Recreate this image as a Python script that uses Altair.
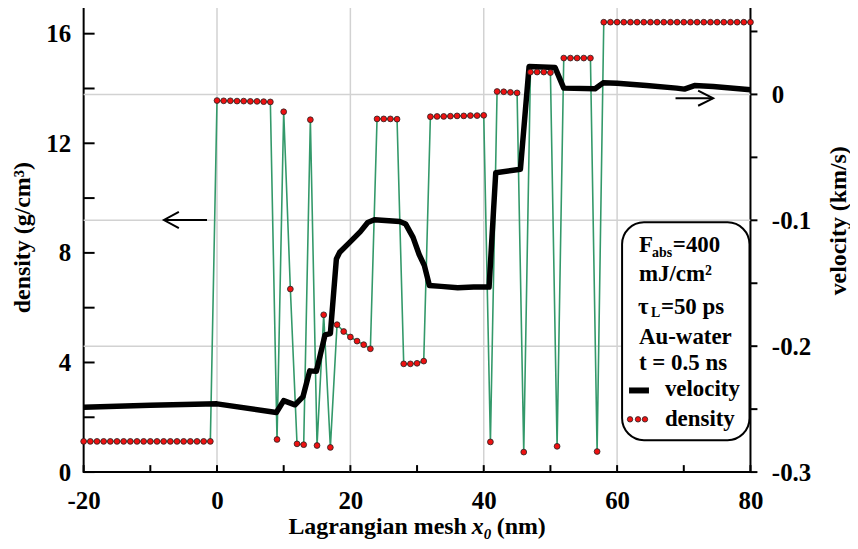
import altair as alt
import pandas as pd

FONT = "Liberation Serif"

# ---- data ----
mesh_x = list(range(-20, 81))
density = [
    1.12, 1.12, 1.12, 1.12, 1.12, 1.12, 1.12, 1.12, 1.12, 1.12,
    1.12, 1.12, 1.12, 1.12, 1.12, 1.12, 1.12, 1.12, 1.12, 1.12,   # -20..-1
    13.56, 13.55, 13.55, 13.54, 13.54, 13.53, 13.53, 13.52, 13.51,  # 0..8
    1.19, 13.15, 6.68, 1.03, 1.00, 12.86, 0.97, 5.74, 0.90,          # 9..17
    5.38, 5.13, 4.93, 4.78, 4.65, 4.50,                              # 18..23
    12.89, 12.89, 12.89, 12.88,                                      # 24..27
    3.95, 3.95, 3.97, 4.05,                                          # 28..31
    12.97, 12.98, 12.98, 12.99, 13.00, 13.00, 13.01, 13.01, 13.02,   # 32..40
    1.10,                                                            # 41
    13.89, 13.88, 13.86, 13.84,                                      # 42..45
    0.73,                                                            # 46
    14.60, 14.60, 14.60, 14.58,                                      # 47..50
    0.94,                                                            # 51
    15.11, 15.11, 15.11, 15.11, 15.11,                               # 52..56
    0.75,                                                            # 57
    16.42, 16.42, 16.42, 16.42, 16.42, 16.42, 16.42, 16.42, 16.42, 16.42,
    16.42, 16.42, 16.42, 16.42, 16.42, 16.42, 16.42, 16.42, 16.42, 16.42,
    16.42, 16.42, 16.42,                                             # 58..80
]

vel_x = [-20, -10, 0, 8.9, 10, 11.7, 12.9, 13.9, 14.9, 16.2, 17, 17.9, 18.4,
         19.9, 21.5, 22.6, 23.6, 27.4, 28.3, 29.4, 30.3, 31.1, 31.85, 33.6,
         36.1, 38.5, 40.8, 41.8, 45.5, 46.8, 50.7, 52.0, 56.7, 57.9, 60,
         64.4, 68.9, 70.1, 71.6, 74.4, 80]
vel_v = [-0.2485, -0.247, -0.2458, -0.2527, -0.2432, -0.2466, -0.240, -0.2196,
         -0.2200, -0.191, -0.190, -0.1307, -0.1254, -0.1175, -0.109, -0.1017,
         -0.0996, -0.101, -0.103, -0.1136, -0.127, -0.136, -0.1518, -0.1525,
         -0.1536, -0.1530, -0.153, -0.0622, -0.0595, 0.0221, 0.0213, 0.005,
         0.0045, 0.0092, 0.0089, 0.007, 0.005, 0.0042, 0.007, 0.0063, 0.0037]

x_labels = [-20, 0, 20, 40, 60, 80]
x_grid = [0, 20, 40, 60]
x_ticks = [-20, -10, 0, 10, 20, 30, 40, 50, 60, 70, 80]
d_labels = [0, 4, 8, 12, 16]
d_ticks = [0, 2, 4, 6, 8, 10, 12, 14, 16]
v_labels = [-0.3, -0.2, -0.1, 0]
v_grid = [-0.2, -0.1, 0]
v_ticks = [-0.3, -0.25, -0.2, -0.15, -0.1, -0.05, 0, 0.05]

# arrows (data coordinates)
arrow_x = [-1.5, -7.96, -5.72, -7.96, -5.72, 68.76, 74.4, 72.15, 74.4, 72.15]
arrow_d = [9.2, 9.2, 9.5, 9.2, 8.9, 13.64, 13.64, 13.92, 13.64, 13.37]
arrow_seg = ["a", "a", "b", "b", "b", "c", "c", "d", "d", "d"]
arrow_o = [0, 1, 0, 1, 2, 0, 1, 0, 1, 2]

W, H = 670, 468

dens_df = pd.DataFrame({"x": mesh_x, "d": density})
vel_df = pd.DataFrame({"x": vel_x, "v": vel_v})
arrow_df = pd.DataFrame({"x": arrow_x, "d": arrow_d, "seg": arrow_seg, "o": arrow_o})

grid_color = "#d2d2d2"

x_scale = alt.Scale(domain=[-20, 80], nice=False, zero=False)
x_enc = alt.X(
    "x:Q", scale=x_scale,
    axis=alt.Axis(values=x_labels, grid=False, ticks=False, domain=False, labelPadding=17,
                  labelFlush=False, title=None,
                  labelExpr="datum.value < 0 ? '-' + abs(datum.value) : '' + datum.value"),
)
d_scale = alt.Scale(domain=[0, 17], nice=False, zero=False)
d_enc = alt.Y(
    "d:Q", scale=d_scale,
    axis=alt.Axis(orient="left", values=d_labels, ticks=False, domain=False, grid=False,
                  labelPadding=13, labelFlush=False, title="density (g/cm³)", titleAngle=270,
                  titleX=-61, titleY=232, titleAlign="center", titleBaseline="middle"),
)
v_scale = alt.Scale(domain=[-0.3, 0.07], nice=False, zero=False)
v_enc = alt.Y(
    "v:Q", scale=v_scale,
    axis=alt.Axis(orient="right", values=v_labels, ticks=False, domain=False, grid=False,
                  labelPadding=21, labelAlign="left", labelFlush=False,
                  labelExpr="datum.value == 0 ? '0' : '-0.' + round(abs(datum.value) * 10)",
                  title="velocity (km/s)", titleAngle=270, titleX=88, titleY=215,
                  titleAlign="center", titleBaseline="middle"),
)

# grid lines (behind everything)
x_gridlines = alt.Chart(pd.DataFrame({"x": x_grid})).mark_rule(color=grid_color, strokeWidth=1.5).encode(
    x=alt.X("x:Q", scale=x_scale))
v_gridlines = alt.Chart(pd.DataFrame({"v": v_grid})).mark_rule(color=grid_color, strokeWidth=1.5).encode(
    y=alt.Y("v:Q", scale=v_scale, axis=None))

green_line = alt.Chart(dens_df).mark_line(color="#33996a", strokeWidth=1.6).encode(x=x_enc, y=d_enc)
left_ticks = alt.Chart(pd.DataFrame({"d": d_ticks})).mark_rule(color="black", strokeWidth=2).encode(
    y=alt.Y("d:Q", scale=d_scale), x=alt.value(0), x2=alt.value(11))
bottom_ticks = alt.Chart(pd.DataFrame({"x": x_ticks})).mark_rule(color="black", strokeWidth=2).encode(
    x=alt.X("x:Q", scale=x_scale), y=alt.value(H), y2=alt.value(H - 7))
arrows = alt.Chart(arrow_df).mark_line(color="black", strokeWidth=2).encode(
    x=alt.X("x:Q", scale=x_scale), y=alt.Y("d:Q", scale=d_scale), detail="seg:N", order="o:Q")

vel_line = alt.Chart(vel_df).mark_line(color="black", strokeWidth=5.5, strokeJoin="round").encode(x=x_enc, y=v_enc)
right_ticks = alt.Chart(pd.DataFrame({"v": v_ticks})).mark_rule(color="black", strokeWidth=2).encode(
    y=alt.Y("v:Q", scale=v_scale), x=alt.value(W), x2=alt.value(W + 7))

dens_group = alt.layer(green_line, left_ticks, bottom_ticks, arrows)
vel_group = alt.layer(vel_line, right_ticks)

points = alt.Chart(dens_df).mark_circle(color="#ee1111", stroke="#222222", strokeWidth=0.8,
                                        size=34, opacity=1).encode(
    x=alt.X("x:Q", scale=x_scale), y=alt.Y("d:Q", scale=d_scale, axis=None))

one = pd.DataFrame({"a": [0]})


def txt(s, px, py, size=23, style="normal", align="left"):
    return alt.Chart(one).mark_text(text=s, font=FONT, fontWeight="bold", fontSize=size,
                                    fontStyle=style, align=align, baseline="alphabetic",
                                    color="black").encode(x=alt.value(px), y=alt.value(py))


legend_box = alt.Chart(one).mark_rect(fill="white", stroke="black", strokeWidth=2,
                                      cornerRadius=22).encode(
    x=alt.value(541), x2=alt.value(669), y=alt.value(217), y2=alt.value(436))
leg_dash = alt.Chart(one).mark_rule(color="black", strokeWidth=6).encode(
    x=alt.value(548), x2=alt.value(568), y=alt.value(386))
leg_dots = [alt.Chart(one).mark_circle(color="#ee1111", stroke="#222222", strokeWidth=0.8,
                                       size=30, opacity=1).encode(x=alt.value(px), y=alt.value(415))
            for px in (549, 557, 564)]

texts = [
    txt("F", 558, 247), txt("abs", 571, 252, size=14), txt("=400", 592, 247),
    txt("mJ/cm²", 558, 276),
    txt("τ", 557, 309), txt("L", 570, 312, size=14), txt("=50 ps", 580, 309),
    txt("Au-water", 558, 339),
    txt("t = 0.5 ns", 558, 365),
    txt("velocity", 584, 392),
    txt("density", 584, 422),
    # x axis title
    txt("Lagrangian mesh", 385, 530, size=24, align="right"),
    txt("x", 390, 530, size=24, style="italic"),
    txt("0", 402, 535, size=15, style="italic"),
    txt("(nm)", 415, 530, size=24),
]

chart = alt.layer(
    x_gridlines, v_gridlines, dens_group, vel_group, points, legend_box, leg_dash,
    *leg_dots, *texts
).resolve_scale(y="independent").properties(
    width=W, height=H,
    autosize=alt.AutoSizeParams(type="none"),
    padding={"left": 76, "top": -3, "right": 100, "bottom": 74},
).configure_view(stroke="black", strokeWidth=2).configure_axis(
    labelFont=FONT, labelFontSize=25, labelFontWeight="bold", labelColor="black",
    titleFont=FONT, titleFontSize=24, titleFontWeight="bold", titleColor="black",
)

chart.save("out.html", embed_options={"renderer": "svg", "actions": False})
